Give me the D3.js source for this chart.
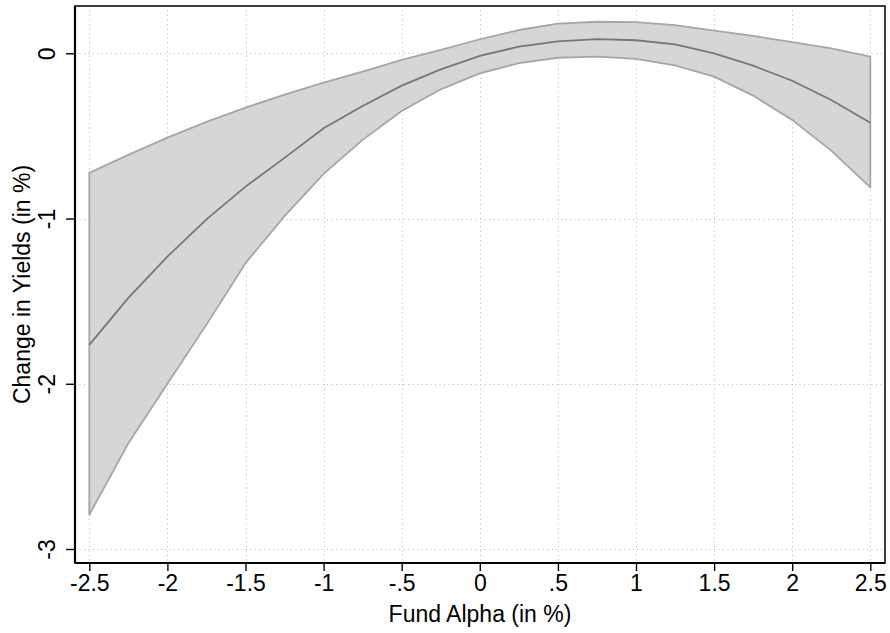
<!DOCTYPE html>
<html>
<head>
<meta charset="utf-8">
<script src="https://cdn.jsdelivr.net/npm/d3@7"></script>
<style>
  body { margin: 0; background: #fff; }
  svg { display: block; font-family: "Liberation Sans", Arial, Helvetica, sans-serif; }
</style>
</head>
<body>
<svg id="chart" width="890" height="633"></svg>
<script>
// Predicted change in yields against fund alpha, with confidence band
const alpha = [-2.5, -2.25, -2, -1.75, -1.5, -1.25, -1, -0.75, -0.5, -0.25, 0,
               0.25, 0.5, 0.75, 1, 1.25, 1.5, 1.75, 2, 2.25, 2.5];
const fit   = [-1.765, -1.48, -1.23, -1.005, -0.807, -0.633, -0.454, -0.319, -0.196, -0.097, -0.015,
               0.040, 0.072, 0.086, 0.079, 0.054, 0.0, -0.075, -0.166, -0.283, -0.42];
const upper = [-0.724, -0.615, -0.51, -0.415, -0.329, -0.25, -0.178, -0.111, -0.040, 0.02, 0.085,
               0.141, 0.179, 0.191, 0.189, 0.171, 0.137, 0.105, 0.068, 0.030, -0.02];
const lower = [-2.793, -2.36, -2.0, -1.642, -1.27, -0.985, -0.730, -0.524, -0.349, -0.218, -0.121,
               -0.060, -0.027, -0.02, -0.034, -0.073, -0.141, -0.256, -0.403, -0.589, -0.811];

const xTicks = [-2.5, -2, -1.5, -1, -0.5, 0, 0.5, 1, 1.5, 2, 2.5];
const xTickLabels = ["-2.5", "-2", "-1.5", "-1", "-.5", "0", ".5", "1", "1.5", "2", "2.5"];
const yTicks = [0, -1, -2, -3];
const yTickLabels = ["0", "-1", "-2", "-3"];

const rows = alpha.map((a, i) => ({ a, fit: fit[i], lo: lower[i], hi: upper[i] }));

const svg = d3.select("#chart");
const plot = { left: 75, right: 885, top: 6, bottom: 563 };
const FONT = "Liberation Sans, Arial, sans-serif";
const FS = 23;

const x = d3.scaleLinear().domain([-2.5, 2.5]).range([89.3, 870.3]);
const y = d3.scaleLinear().domain([0, -3]).range([53.3, 549]);

// dotted grid
const grid = svg.append("g").attr("stroke", "#b8b8b8").attr("stroke-width", 1)
  .attr("stroke-dasharray", "1,3.5");
grid.selectAll("line.v").data(xTicks).join("line")
  .attr("x1", d => Math.round(x(d)) + 0.5).attr("x2", d => Math.round(x(d)) + 0.5)
  .attr("y1", plot.top).attr("y2", plot.bottom);
grid.selectAll("line.h").data(yTicks).join("line")
  .attr("x1", plot.left).attr("x2", plot.right)
  .attr("y1", d => Math.round(y(d)) + 0.5).attr("y2", d => Math.round(y(d)) + 0.5);

// confidence band
const band = d3.area().x(d => x(d.a)).y0(d => y(d.lo)).y1(d => y(d.hi));
svg.append("path").datum(rows).attr("d", band).attr("fill", "#d6d6d6");
svg.append("path").datum(rows)
  .attr("d", () => {
    const up = rows.map(r => [x(r.a), y(r.hi)]);
    const dn = rows.slice().reverse().map(r => [x(r.a), y(r.lo)]);
    return d3.line()(up.concat(dn)) + "Z";
  })
  .attr("fill", "none").attr("stroke", "#a6a6a6").attr("stroke-width", 1.8)
  .attr("stroke-linejoin", "round");

// fitted line
svg.append("path").datum(rows)
  .attr("d", d3.line().x(d => x(d.a)).y(d => y(d.fit)))
  .attr("fill", "none").attr("stroke", "#777").attr("stroke-width", 1.8);

// frame
svg.append("rect").attr("x", plot.left).attr("y", plot.top)
  .attr("width", plot.right - plot.left).attr("height", plot.bottom - plot.top)
  .attr("fill", "none").attr("stroke", "#000").attr("stroke-width", 1.5);

// axes
const xAxis = d3.axisBottom(x).tickValues(xTicks)
  .tickFormat((d, i) => xTickLabels[i]).tickSize(8).tickPadding(4);
const gx = svg.append("g").attr("transform", `translate(0,${plot.bottom})`).call(xAxis);
gx.select(".domain").attr("d", `M${plot.left},0H${plot.right}`).attr("stroke-width", 2.2);
gx.selectAll(".tick line").attr("stroke-width", 1.4);
gx.selectAll("text").attr("font-size", FS).attr("fill", "#000").attr("font-family", FONT);

const yAxis = d3.axisLeft(y).tickValues(yTicks)
  .tickFormat((d, i) => yTickLabels[i]).tickSize(9).tickPadding(0);
const gy = svg.append("g").attr("transform", `translate(${plot.left},0)`).call(yAxis);
gy.select(".domain").attr("d", `M0,${plot.top}V${plot.bottom}`).attr("stroke-width", 2.2);
gy.selectAll(".tick line").attr("stroke-width", 1.4);
gy.selectAll("text").attr("font-size", FS).attr("fill", "#000").attr("font-family", FONT)
  .attr("text-anchor", "middle").attr("dy", "0.35em").attr("x", null)
  .attr("transform", "translate(-28,0) rotate(-90)");

// axis titles
svg.append("text").attr("x", (plot.left + plot.right) / 2).attr("y", 622)
  .attr("text-anchor", "middle").attr("font-size", FS).attr("font-family", FONT)
  .text("Fund Alpha (in %)");
svg.append("text")
  .attr("transform", `translate(22,${(plot.top + plot.bottom) / 2}) rotate(-90)`)
  .attr("text-anchor", "middle").attr("dy", "0.35em").attr("font-size", FS).attr("font-family", FONT)
  .text("Change in Yields (in %)");
</script>
</body>
</html>
